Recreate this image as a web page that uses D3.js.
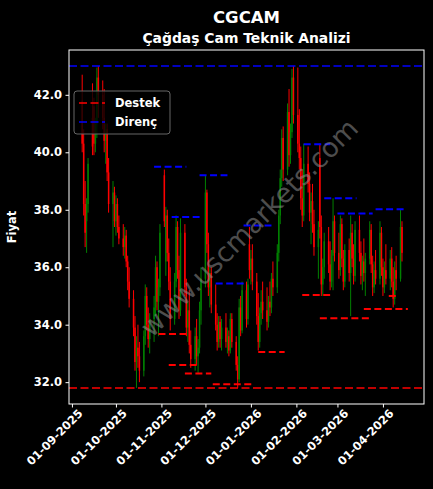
<!DOCTYPE html>
<html>
<head>
<meta charset="utf-8">
<script src="https://cdn.jsdelivr.net/npm/d3@7"></script>
<style>
	html, body { margin: 0; padding: 0; background: #000; }
	svg { display: block; font-family: "DejaVu Sans", sans-serif; }
	text { fill: #fff; font-weight: bold; }
</style>
</head>
<body>
<svg id="chart" width="433" height="489"></svg>
<script>
const ticker = "CGCAM"
const subtitle = "Çağdaş Cam Teknik Analizi"

//trading days run Mon-Fri between these two
const firstDay = "2025-09-08"
const lastDay = "2026-04-14"

//one line per week
const opens = [
	41.8, 40.3, 38.2, 37.6, 38.2,  41.2, 41.6, 40.3, 41.0, 42.6,  42.0, 41.2, 40.4, 40.8, 39.3,
	38.2, 38.6, 37.6, 38.2, 37.4,  37.0, 36.7, 37.1, 36.2, 35.5,  34.9, 33.9, 32.7, 33.2, 32.9,
	32.4, 33.6, 35.0, 34.0, 33.5,  34.2, 34.6, 36.0, 34.8, 35.3,  39.2, 36.2, 37.8, 36.5, 35.5,
	34.2, 35.5, 37.4, 35.9, 34.5,  37.2, 35.3, 33.9, 34.5, 33.3,  32.8, 33.6, 32.9, 33.2, 34.5,
	35.6, 38.6, 36.8, 35.3, 35.8,  34.7, 34.0, 33.4, 34.1, 33.5,  33.9, 33.4, 33.6, 33.1, 34.2,
	33.4, 32.6, 32.1, 34.6, 33.8,  35.2, 34.2, 36.8, 35.9, 36.3,  35.5, 34.3, 33.4, 34.4, 34.8,
	34.5, 34.1, 34.8, 34.6, 35.6,  35.3, 36.5, 37.8, 39.1, 40.5,  39.4, 41.4, 39.9, 40.7, 42.6,
	41.3, 40.3, 39.8, 38.4, 37.8,  39.6, 38.9, 37.9, 38.3, 37.5,  36.7, 39.8, 37.4, 35.4, 36.0,
	36.9, 36.1, 35.5, 36.4, 37.6,  36.5, 35.9, 37.5, 36.3, 35.5,  36.6, 35.8, 37.2, 36.3, 35.7,
	37.3, 36.5, 35.7, 36.2, 35.8,  36.3, 37.3, 36.1, 35.3, 35.9,  35.6, 37.2, 36.0, 35.3, 35.9,
	35.6, 36.3, 35.5, 34.9, 35.9,  35.6, 37.4
]
const highs = [
	42.7, 40.8, 39.0, 38.4, 39.8,  42.4, 41.9, 41.2, 42.95, 43.0,  42.5, 42.2, 41.0, 41.0, 39.8,
	39.0, 38.8, 38.5, 38.4, 37.8,  37.5, 37.4, 37.3, 36.4, 36.0,  35.2, 34.3, 33.6, 34.0, 33.4,
	33.8, 35.4, 35.3, 34.6, 34.4,  35.0, 36.4, 36.2, 35.6, 37.5,  39.4, 38.1, 38.0, 37.0, 36.0,
	35.8, 37.8, 37.6, 36.4, 37.7,  37.5, 35.6, 34.8, 35.2, 33.8,  33.9, 34.2, 33.5, 34.8, 36.0,
	39.2, 38.7, 37.2, 36.0, 36.0,  35.4, 34.4, 34.3, 34.3, 34.2,  34.4, 33.9, 33.8, 34.4, 34.4,
	33.6, 32.9, 34.9, 35.0, 35.5,  35.5, 35.6, 37.4, 36.6, 36.8,  35.8, 35.1, 34.6, 35.2, 35.5,
	35.3, 35.0, 35.5, 35.8, 36.2,  36.8, 38.0, 39.4, 40.8, 40.9,  41.7, 42.2, 41.0, 42.9, 43.0,
	42.95, 41.5, 40.2, 39.4, 40.3,  40.2, 39.3, 38.6, 38.9, 38.0,  37.6, 40.3, 37.8, 36.3, 37.2,
	37.4, 36.9, 36.6, 38.4, 37.8,  37.2, 37.8, 37.7, 36.6, 36.8,  37.0, 37.8, 37.5, 36.8, 37.6,
	37.8, 36.9, 36.4, 37.0, 36.5,  37.6, 37.5, 36.4, 36.2, 36.6,  37.6, 37.4, 36.3, 36.2, 36.8,
	36.6, 36.7, 36.0, 36.2, 36.4,  38.0, 37.6
]
const lows = [
	40.0, 37.8, 36.7, 36.5, 37.9,  39.9, 39.9, 40.0, 40.5, 41.2,  40.8, 40.0, 39.6, 39.0, 37.9,
	36.7, 37.4, 37.1, 37.2, 36.8,  36.4, 36.3, 36.0, 35.2, 34.6,  33.6, 32.4, 31.8, 32.5, 32.0,
	32.2, 33.3, 33.8, 33.2, 33.0,  33.4, 34.3, 34.5, 33.6, 35.0,  37.4, 35.7, 36.2, 35.2, 33.8,
	34.0, 35.3, 35.6, 34.2, 34.3,  35.0, 33.6, 33.4, 33.0, 32.5,  32.4, 32.6, 32.3, 33.0, 34.0,
	35.3, 36.5, 35.0, 34.6, 34.4,  33.8, 33.1, 33.2, 33.2, 33.1,  33.2, 33.0, 32.9, 33.0, 33.2,
	32.4, 31.8, 32.0, 33.6, 33.7,  33.9, 34.0, 35.6, 35.4, 35.2,  34.0, 33.1, 33.2, 34.0, 34.2,
	33.8, 33.9, 34.3, 34.4, 35.0,  35.1, 36.2, 37.5, 38.8, 39.0,  39.2, 39.5, 39.6, 40.5, 41.0,
	40.0, 39.4, 38.0, 37.4, 37.6,  38.6, 37.6, 36.8, 37.2, 36.4,  35.6, 37.0, 35.0, 35.0, 35.6,
	35.8, 35.2, 35.3, 35.2, 36.2,  35.6, 35.7, 36.0, 35.2, 35.3,  35.5, 34.3, 36.0, 35.4, 35.5,
	36.2, 35.4, 35.2, 35.5, 35.0,  36.1, 35.8, 35.0, 35.1, 35.4,  35.4, 35.7, 35.0, 35.1, 35.4,
	35.2, 35.3, 34.6, 34.7, 35.2,  35.5, 36.2
]
const closes = [
	40.3, 38.2, 37.2, 38.2, 39.6,  40.2, 40.3, 41.0, 42.6, 42.0,  41.2, 40.4, 40.8, 39.3, 38.2,
	38.6, 37.6, 38.2, 37.4, 37.0,  36.7, 37.1, 36.2, 35.5, 34.9,  33.9, 32.7, 33.2, 32.9, 32.4,
	33.6, 35.0, 34.0, 33.5, 34.2,  34.6, 36.0, 34.8, 35.3, 37.2,  37.6, 37.8, 36.5, 35.5, 34.2,
	35.5, 37.4, 35.9, 34.5, 37.2,  35.3, 33.9, 34.5, 33.3, 32.8,  33.6, 32.9, 33.2, 34.5, 35.6,
	38.6, 36.8, 35.3, 35.8, 34.7,  34.0, 33.4, 34.1, 33.5, 33.9,  33.4, 33.6, 33.1, 34.2, 33.4,
	32.6, 32.1, 34.6, 33.8, 35.2,  34.2, 35.4, 35.9, 36.3, 35.5,  34.3, 33.4, 34.4, 34.8, 34.5,
	34.1, 34.8, 34.6, 35.6, 35.3,  36.5, 37.8, 39.1, 40.5, 39.4,  41.4, 39.9, 40.7, 42.6, 41.3,
	40.3, 39.8, 38.4, 37.8, 39.6,  38.9, 37.9, 38.3, 37.5, 36.7,  37.3, 37.4, 35.4, 36.0, 36.9,
	36.1, 35.5, 36.4, 37.6, 36.5,  35.9, 37.5, 36.3, 35.5, 36.6,  35.8, 37.2, 36.3, 35.7, 37.3,
	36.5, 35.7, 36.2, 35.8, 36.3,  37.3, 36.1, 35.3, 35.9, 35.6,  37.2, 36.0, 35.3, 35.9, 35.6,
	36.3, 35.5, 34.9, 35.9, 35.6,  37.4, 36.5
]

//long levels across the whole chart
const destekLevel = 31.8
const direncLevel = 43.0

//short levels: [from, to, price]
const destekSegs = [
	["2025-10-30", "2025-11-18", 33.68],
	["2025-11-06", "2025-11-26", 32.6],
	["2025-11-17", "2025-12-05", 32.3],
	["2025-12-06", "2026-01-02", 31.93],
	["2026-01-06", "2026-01-24", 33.05],
	["2026-02-05", "2026-02-24", 35.03],
	["2026-02-17", "2026-03-23", 34.22],
	["2026-03-19", "2026-04-18", 34.55],
	["2026-04-05", "2026-04-11", 35.0]
]
const direncSegs = [
	["2025-10-27", "2025-11-18", 39.5],
	["2025-11-08", "2025-11-27", 37.75],
	["2025-11-27", "2025-12-16", 39.2],
	["2025-12-08", "2025-12-28", 35.43],
	["2025-12-27", "2026-01-15", 37.45],
	["2026-02-06", "2026-02-24", 40.28],
	["2026-02-20", "2026-03-14", 38.4],
	["2026-03-01", "2026-03-25", 37.87],
	["2026-03-27", "2026-04-17", 38.02]
]

const yTicks = [32, 34, 36, 38, 40, 42]
const xTicks = ["2025-09-01", "2025-10-01", "2025-11-01", "2025-12-01", "2026-01-01", "2026-02-01", "2026-03-01", "2026-04-01"]
const xLimits = ["2025-08-30", "2026-04-29"]

const parse = d3.timeParse("%Y-%m-%d")
const fmt = d3.timeFormat("%d-%m-%Y")

var days = d3.timeDay.range(parse(firstDay), d3.timeDay.offset(parse(lastDay), 1))
	.filter(d => d.getDay() !== 0 && d.getDay() !== 6)
var candles = days.map((d, i) => ({date: d, o: opens[i], h: highs[i], l: lows[i], c: closes[i]}))

const box = {left: 69, right: 424, top: 50, bottom: 404}
const svg = d3.select("#chart")

var pad = (direncLevel - destekLevel) * 0.05
var y = d3.scaleLinear()
	.domain([destekLevel - pad, direncLevel + pad])
	.range([box.bottom, box.top])
var x = d3.scaleTime()
	.domain(xLimits.map(parse))
	.range([box.left, box.right])

svg.append("rect").attr("width", 433).attr("height", 489).attr("fill", "#000")

svg.append("text").attr("x", (box.left + box.right) / 2).attr("y", 23)
	.attr("text-anchor", "middle").style("font-size", "16.5px").text(ticker)
svg.append("text").attr("x", (box.left + box.right) / 2).attr("y", 43)
	.attr("text-anchor", "middle").style("font-size", "13.9px").text(subtitle)

var plot = svg.append("g")

//candles: wick + thin body
var candle = plot.selectAll("g.candle")
	.data(candles)
	.join("g")
		.classed("candle", true)
		.attr("stroke", d => d.c >= d.o ? "#008000" : "#ff0000")
		.attr("fill", d => d.c >= d.o ? "#008000" : "#ff0000")

candle.append("line")
	.attr("x1", d => x(d.date)).attr("x2", d => x(d.date))
	.attr("y1", d => y(d.h)).attr("y2", d => y(d.l))
	.attr("stroke-width", 1)

candle.append("rect")
	.attr("x", d => x(d.date) - 0.75)
	.attr("width", 1.5)
	.attr("y", d => y(Math.max(d.o, d.c)))
	.attr("height", d => Math.max(1, Math.abs(y(d.o) - y(d.c))))
	.attr("stroke", "none")

//support / resistance
function levelLines(segs, color) {
	plot.selectAll(null)
		.data(segs)
		.join("line")
			.attr("x1", d => x(parse(d[0]))).attr("x2", d => x(parse(d[1])))
			.attr("y1", d => y(d[2])).attr("y2", d => y(d[2]))
			.attr("stroke", color).attr("stroke-width", 2)
			.attr("stroke-dasharray", "7,3.5")
}
levelLines(destekSegs, "#ff0000")
levelLines(direncSegs, "#0000ff")

plot.append("line")
	.attr("x1", box.left).attr("x2", box.right)
	.attr("y1", y(destekLevel)).attr("y2", y(destekLevel))
	.attr("stroke", "#ff0000").attr("stroke-width", 1.5).attr("stroke-dasharray", "8,3.5")
plot.append("line")
	.attr("x1", box.left).attr("x2", box.right)
	.attr("y1", y(direncLevel)).attr("y2", y(direncLevel))
	.attr("stroke", "#0000ff").attr("stroke-width", 1.5).attr("stroke-dasharray", "8,3.5")

//watermark
svg.append("text")
	.attr("transform", `translate(${(box.left + box.right) / 2 + 4},${(box.top + box.bottom) / 2 + 2}) rotate(-45)`)
	.attr("text-anchor", "middle").attr("dominant-baseline", "middle")
	.style("font-size", "27px").style("font-weight", "normal")
	.style("fill", "#8c8c8c").style("opacity", 0.55)
	.text("www.uscmarkets.com")

//axes
svg.append("rect")
	.attr("x", box.left).attr("y", box.top)
	.attr("width", box.right - box.left).attr("height", box.bottom - box.top)
	.attr("fill", "none").attr("stroke", "#fff").attr("stroke-width", 1)

var yAxis = svg.append("g")
	.attr("transform", `translate(${box.left},0)`)
	.call(d3.axisLeft(y).tickValues(yTicks).tickFormat(d3.format(".1f")).tickSize(3.5).tickPadding(3.5))
yAxis.select(".domain").remove()
yAxis.selectAll("line").attr("stroke", "#fff")
yAxis.selectAll("text").style("font-size", "11.5px").style("font-family", "DejaVu Sans").attr("fill", "#fff")

var xAxis = svg.append("g")
	.attr("transform", `translate(0,${box.bottom})`)
	.call(d3.axisBottom(x).tickValues(xTicks.map(parse)).tickFormat(fmt).tickSize(3.5))
xAxis.select(".domain").remove()
xAxis.selectAll("line").attr("stroke", "#fff")
xAxis.selectAll("text")
	.style("font-size", "11.5px").style("font-family", "DejaVu Sans").attr("fill", "#fff")
	.attr("text-anchor", "end")
	.attr("transform", "translate(5,4) rotate(-45)")
	.attr("x", 0).attr("y", 0).attr("dy", "0.75em")

svg.append("text")
	.attr("transform", `translate(16,${(box.top + box.bottom) / 2}) rotate(-90)`)
	.attr("text-anchor", "middle").style("font-size", "11.5px").text("Fiyat")

//legend
var legend = svg.append("g").attr("transform", "translate(74,91)")
legend.append("rect")
	.attr("width", 96).attr("height", 43).attr("rx", 3)
	.attr("fill", "#000").attr("fill-opacity", 0.8)
	.attr("stroke", "#666").attr("stroke-width", 1)
var items = [["Destek", "#ff0000"], ["Direnç", "#0000ff"]]
items.forEach(([label, color], i) => {
	legend.append("line")
		.attr("x1", 5).attr("x2", 31).attr("y1", 12 + i * 19).attr("y2", 12 + i * 19)
		.attr("stroke", color).attr("stroke-width", 1.5).attr("stroke-dasharray", "8,3.5")
	legend.append("text")
		.attr("x", 41).attr("y", 12 + i * 19).attr("dy", "0.36em")
		.style("font-size", "11.5px").text(label)
})
</script>
</body>
</html>
